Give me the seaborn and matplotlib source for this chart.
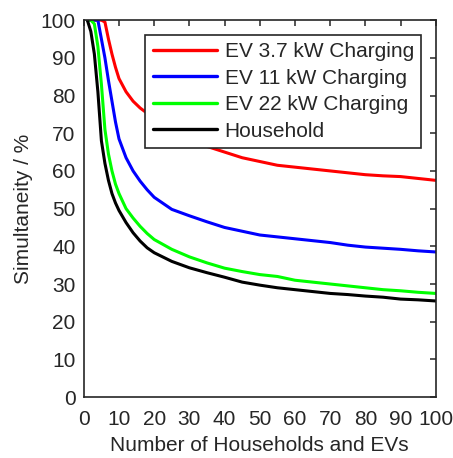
import pandas as pd
import numpy as np
import matplotlib
matplotlib.use("Agg")
import matplotlib.pyplot as plt
import seaborn as sns

# x positions (number of households / EVs)
n_units = [1, 2, 3, 4, 5, 6, 7, 8, 9, 10, 12, 14, 16, 18, 20, 25, 30, 35, 40, 45,
           50, 55, 60, 65, 70, 75, 80, 85, 90, 95, 100]

# simultaneity values (%)
ev_3_7kw = [100, 100, 100, 100, 100, 99.5, 95, 91, 87.5, 84.5, 81, 78.5, 76.7, 75.3, 74.2, 71,
            68.5, 66.5, 65, 63.5, 62.5, 61.5, 61, 60.5, 60, 59.5, 59, 58.7, 58.5, 58, 57.5]
ev_11kw = [100, 100, 100, 100, 95, 90, 84, 78.5, 73, 68.5, 63.5, 60, 57.3, 55, 53, 49.8,
           48.1, 46.5, 45, 44, 43, 42.5, 42, 41.5, 41, 40.3, 39.8, 39.5, 39.2, 38.8, 38.5]
ev_22kw = [100, 100, 99, 93, 83, 71, 64.5, 60, 56.5, 54, 50, 47.5, 45.3, 43.4, 41.8, 39.2,
           37.2, 35.6, 34.2, 33.3, 32.5, 32, 31, 30.5, 30, 29.5, 29, 28.5, 28.2, 27.8, 27.5]
household = [100, 97, 91, 81, 68, 62, 57.5, 54, 51.5, 49.5, 46.3, 43.6, 41.4, 39.6, 38.3, 36,
             34.3, 33, 31.8, 30.5, 29.7, 29, 28.5, 28, 27.5, 27.2, 26.8, 26.5, 26, 25.8, 25.5]

labels = ["EV 3.7 kW Charging", "EV 11 kW Charging", "EV 22 kW Charging", "Household"]
colors = ["#ff0000", "#0000ff", "#00ff00", "#000000"]

df = pd.concat([
    pd.DataFrame({"n": n_units, "sim": vals, "series": lab})
    for vals, lab in zip([ev_3_7kw, ev_11kw, ev_22kw, household], labels)
])

sns.set_style("white")
plt.rcParams["font.family"] = ["Liberation Sans", "DejaVu Sans"]
fs = 15
plt.rcParams["font.size"] = fs

fig = plt.figure(figsize=(4.53, 4.58), dpi=100)
ax = fig.add_axes([0.185, 0.133, 0.777, 0.823])

sns.lineplot(data=df, x="n", y="sim", hue="series", hue_order=labels,
             palette=colors, linewidth=2.2, ax=ax)

ax.set_xlim(0, 100)
ax.set_ylim(0, 100)
ax.set_xticks(range(0, 101, 10))
ax.set_yticks(range(0, 101, 10))
ax.set_xlabel("Number of Households and EVs", color="#262626", fontsize=fs, labelpad=5)
ax.set_ylabel("Simultaneity / %", color="#262626", fontsize=fs, labelpad=5)

ax.tick_params(direction="in", length=4, width=1.1, top=True, right=True,
               colors="#262626", labelsize=fs, pad=6)
ax.tick_params(axis="x", pad=9)
for sp in ax.spines.values():
    sp.set_visible(True)
    sp.set_color("#262626")
    sp.set_linewidth(1.2)

leg = ax.legend(loc="upper right", frameon=True, fancybox=False, framealpha=1,
                edgecolor="#262626", handlelength=3.1, borderaxespad=0.7,
                labelspacing=0.36, fontsize=fs, handletextpad=0.35,
                borderpad=0.35)
leg.get_frame().set_linewidth(1.2)
for line in leg.get_lines():
    line.set_linewidth(2.4)

fig.savefig("out.png", dpi=100)
